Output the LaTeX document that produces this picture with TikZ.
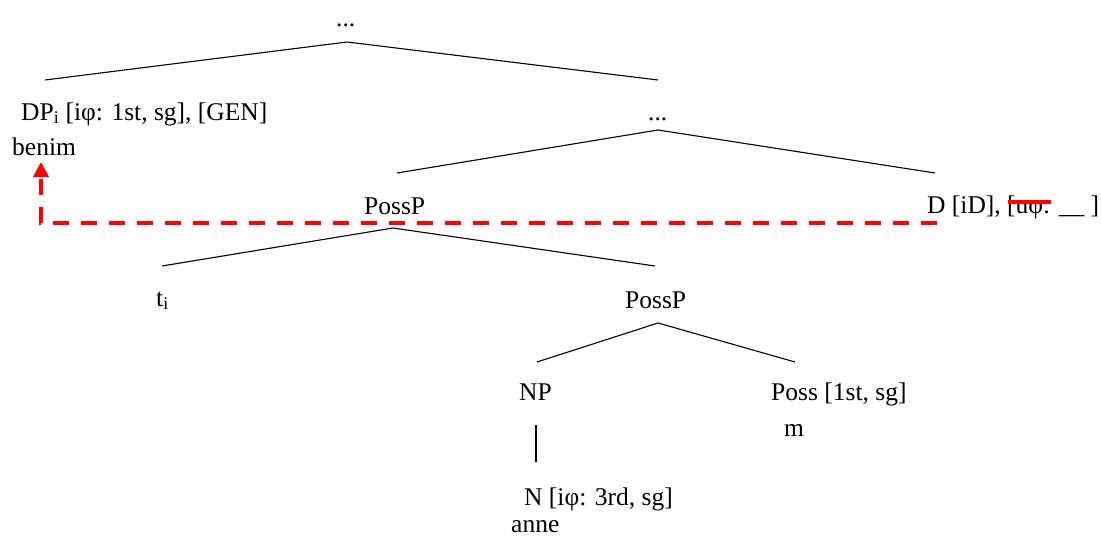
\documentclass[tikz,border=0pt]{standalone}
\usepackage{fontspec}
\setmainfont{Liberation Serif}
\usetikzlibrary{arrows.meta}
\begin{document}
\begin{tikzpicture}[x=1pt,y=-1pt,
  lbl/.style={anchor=base west,inner sep=0pt,font=\fontsize{25.5}{30}\selectfont},
  branch/.style={line width=1.1pt,black},
  move/.style={red,line width=3.8pt,dash pattern=on 16pt off 12pt,-{Triangle[length=15pt,width=15pt]}}]
\useasboundingbox (0,0) rectangle (1101,538);
\node[lbl] (top) at (336,26) {...};
\node[lbl] (dp) at (21,120) {DP\textsubscript{i} [i\char"03C6: 1st, sg], [GEN]};
\node[lbl] (benim) at (12,155) {benim};
\node[lbl] (dots2) at (648,120) {...};
\node[lbl] (possp1) at (364,214) {PossP};
\node[lbl] (d) at (927,213) {D [iD], [u\char"03C6: \_\_ ]};
\node[lbl] (ti) at (156,306) {t\textsubscript{i}};
\node[lbl] (possp2) at (625,308) {PossP};
\node[lbl] (np) at (519,400) {NP};
\node[lbl] (poss) at (771,400) {Poss [1st, sg]};
\node[lbl] (m) at (784,436) {m};
\node[lbl] (n) at (524,505) {N [i\char"03C6: 3rd, sg]};
\node[lbl] (anne) at (511,532) {anne};
% tree coordinates
\coordinate (r0) at (347,42);
\coordinate (l0) at (45,80);
\coordinate (rr0) at (658,80);
\coordinate (r1) at (658,130);
\coordinate (l1) at (397,173);
\coordinate (rr1) at (935,173);
\coordinate (r2) at (393,228);
\coordinate (l2) at (162,266);
\coordinate (rr2) at (655,266);
\coordinate (r3) at (658,323);
\coordinate (l3) at (537,362);
\coordinate (rr3) at (795,362);
\coordinate (v1) at (536,425);
\coordinate (v2) at (536,462);
\draw[branch] (l0) -- (r0) -- (rr0);
\draw[branch] (l1) -- (r1) -- (rr1);
\draw[branch] (l2) -- (r2) -- (rr2);
\draw[branch] (l3) -- (r3) -- (rr3);
\draw[branch] (v1) -- (v2);
% movement arrow
\coordinate (ms) at (937,223);
\coordinate (mc) at (41,223);
\coordinate (me) at (41,162);
\draw[move] (ms) -- (mc) -- (me);
\draw[red,line width=3.2pt] (1008,202) -- (1051,202);
\end{tikzpicture}
\end{document}
